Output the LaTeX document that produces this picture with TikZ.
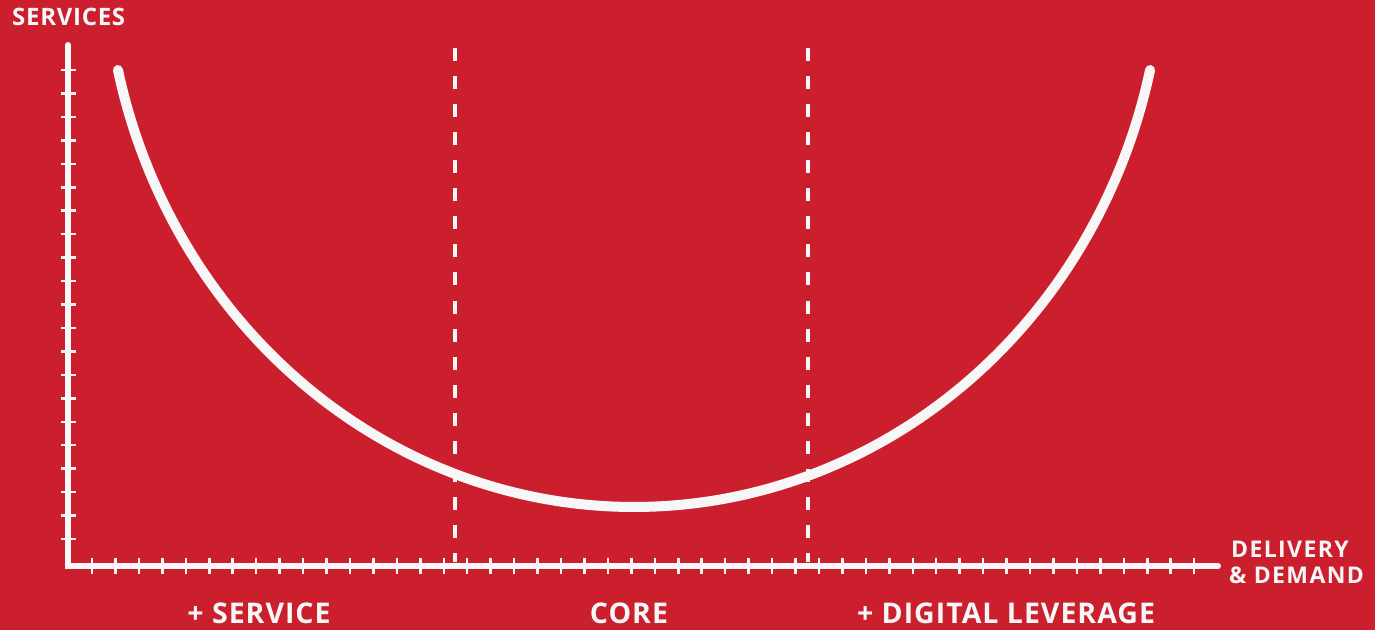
\documentclass[tikz,border=0pt]{standalone}
\usepackage{fontspec}
\setmainfont{Open Sans}
\definecolor{bgred}{RGB}{204,31,46}
\definecolor{ink}{RGB}{247,247,247}
\begin{document}
\begin{tikzpicture}[x=1pt,y=-1pt,
  axisline/.style={ink,line width=6pt,line cap=round,line join=miter},
  tickline/.style={ink,line width=2.5pt},
  divider/.style={ink,line width=3.5pt,dash pattern=on 13pt off 15.06pt},
  ucurve/.style={ink,line width=10pt,line cap=round},
  biglbl/.style={text=ink,font=\bfseries\fontsize{28.5}{32}\selectfont\addfontfeatures{LetterSpace=3.5},inner sep=0pt},
  axlbl/.style={text=ink,font=\bfseries\fontsize{23}{26}\selectfont\addfontfeatures{LetterSpace=6},inner sep=0pt},
  ylbl/.style={text=ink,font=\bfseries\fontsize{24}{28}\selectfont\addfontfeatures{LetterSpace=3},inner sep=0pt}]
\fill[bgred] (0,0) rectangle (1375,630);
\useasboundingbox (0,0) rectangle (1375,630);
% axes
\coordinate (ytop) at (68,45);
\coordinate (origin) at (68,566);
\coordinate (xend) at (1218,566);
\draw[axisline] (ytop) -- (origin) -- (xend);
\foreach \k in {0,...,20}
  \draw[tickline] (61,{70+23.45*\k}) -- (76,{70+23.45*\k});
\foreach \k in {0,...,47}
  \draw[tickline] ({92+23.45*\k},558) -- ({92+23.45*\k},574);
% dividers
\coordinate (d1top) at (455,48);
\coordinate (d1bot) at (455,562);
\coordinate (d2top) at (808,48);
\coordinate (d2bot) at (808,562);
\draw[divider] (d1top) -- (d1bot);
\draw[divider] (d2top) -- (d2bot);
% U curve
\draw[ucurve] plot[domain=167.31:12.69,samples=160,smooth] ({634+529*cos(\x)},{-53+560*sin(\x)});
% labels
\node[ylbl,anchor=base west] (services) at (12,25) {SERVICES};
\node[axlbl,anchor=base west] (delivery) at (1231,557) {DELIVERY};
\node[axlbl,anchor=base west] (demand) at (1229,583) {\& DEMAND};
\node[biglbl,anchor=base] (service) at (259,623) {+ SERVICE};
\node[biglbl,anchor=base] (core) at (629,623) {CORE};
\node[biglbl,anchor=base] (digital) at (1006,623) {+ DIGITAL LEVERAGE};
\end{tikzpicture}
\end{document}
